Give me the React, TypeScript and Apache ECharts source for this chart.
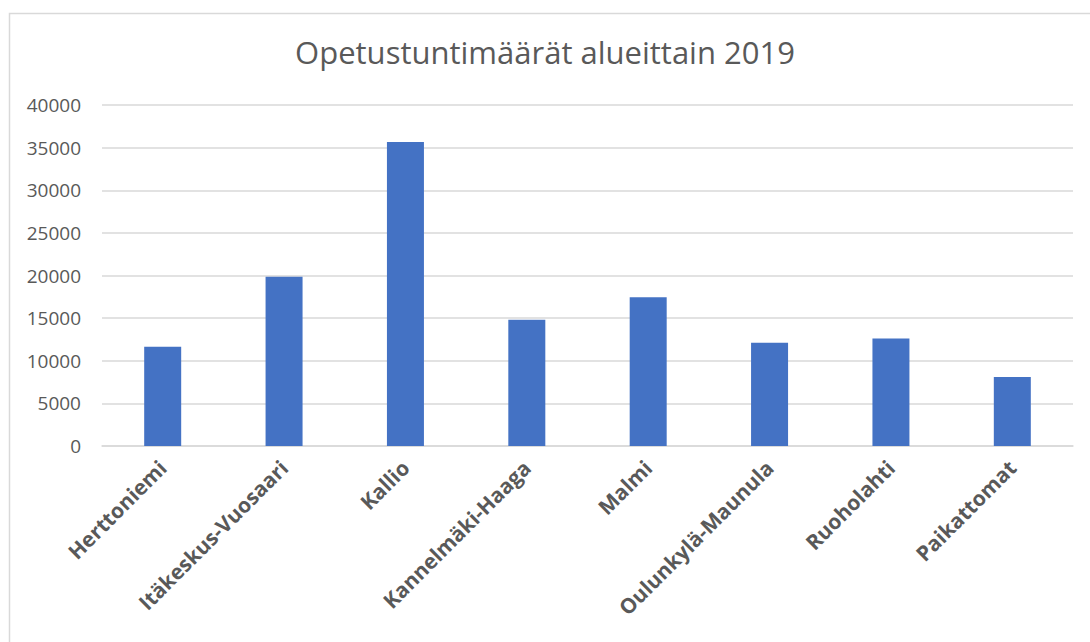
import React, { useEffect, useRef } from "react";
import * as echarts from "echarts";

const categories = [
  "Herttoniemi",
  "Itäkeskus-Vuosaari",
  "Kallio",
  "Kannelmäki-Haaga",
  "Malmi",
  "Oulunkylä-Maunula",
  "Ruoholahti",
  "Paikattomat",
];
const values = [11650, 19850, 35650, 14800, 17450, 12100, 12600, 8100];
const titleText = "Opetustuntimäärät alueittain 2019";
const yMin = 0;
const yMax = 40000;
const yInterval = 5000;

export default function App() {
  const ref = useRef<HTMLDivElement>(null);
  useEffect(() => {
    if (!ref.current) return;
    const chart = echarts.init(ref.current, null, { renderer: "svg" });
    chart.setOption({
      animation: false,
      backgroundColor: "#ffffff",
      title: {
        text: titleText,
        left: "center",
        top: 31,
        textStyle: {
          fontFamily: "Open Sans",
          fontSize: 31,
          fontWeight: "normal",
          color: "#595959",
        },
      },
      graphic: [
        {
          type: "rect",
          left: 7,
          top: 11,
          shape: { width: 1100, height: 700 },
          style: { fill: "none", stroke: "#D9D9D9", lineWidth: 1.5 },
          silent: true,
        },
      ],
      grid: { left: 102, right: 17, top: 105, bottom: 196, containLabel: false },
      xAxis: {
        type: "category",
        data: categories,
        axisLine: { show: true, lineStyle: { color: "#D9D9D9", width: 1.5 } },
        axisTick: { show: false },
        axisLabel: {
          rotate: 45,
          margin: 18,
          interval: 0,
          color: "#595959",
          fontFamily: "Open Sans",
          fontWeight: "bold",
          fontSize: 21,
        },
      },
      yAxis: {
        type: "value",
        min: yMin,
        max: yMax,
        interval: yInterval,
        axisLine: { show: false },
        axisTick: { show: false },
        splitLine: { lineStyle: { color: "#D9D9D9", width: 1.5 } },
        axisLabel: {
          margin: 21,
          color: "#595959",
          fontFamily: "Open Sans",
          fontSize: 19,
          formatter: (v: number) => String(v),
        },
      },
      series: [
        {
          type: "bar",
          data: values,
          barWidth: 37,
          itemStyle: { color: "#4472C4" },
        },
      ],
    });
    return () => chart.dispose();
  }, []);
  return (
    <div
      ref={ref}
      style={{ position: "fixed", left: 0, top: 0, width: 1090, height: 642 }}
    />
  );
}
